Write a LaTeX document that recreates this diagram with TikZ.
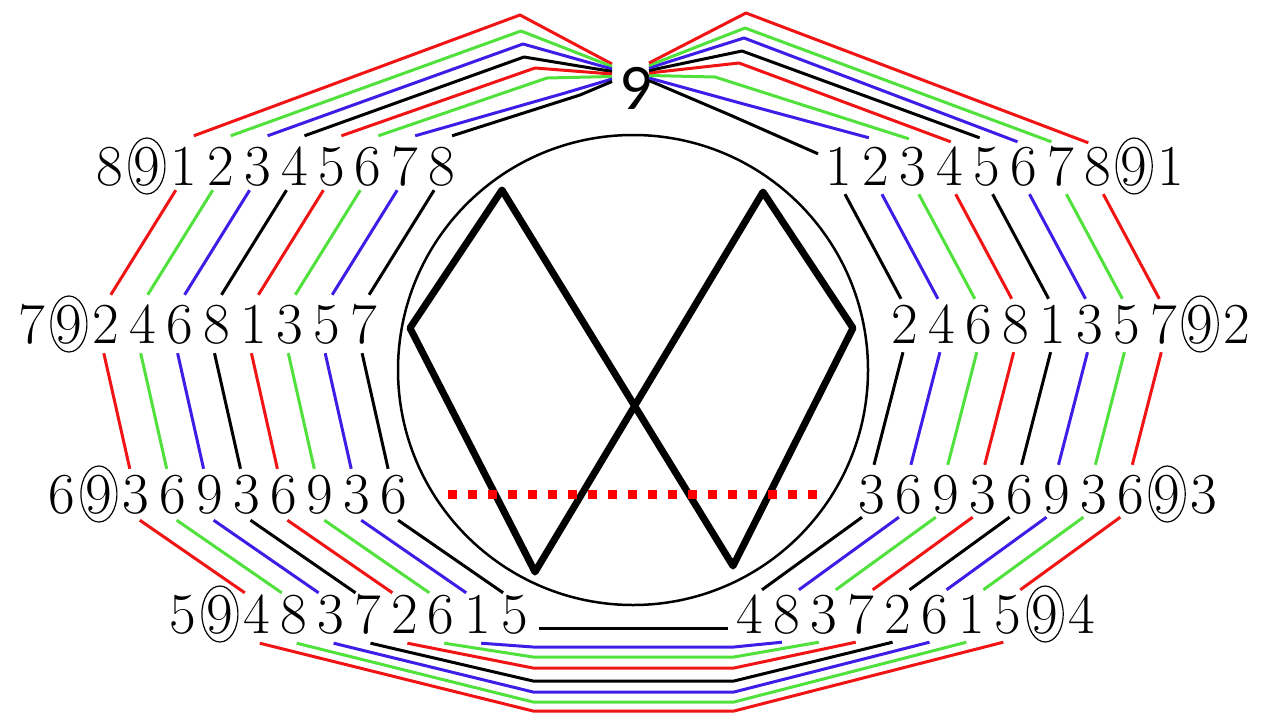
\documentclass[tikz,border=0pt]{standalone}
\usepackage{fontspec}
\usetikzlibrary{shapes.geometric}
\newfontfamily\topnine{Carlito}
\newcommand\digitfont{\fontsize{58}{60}\selectfont}
\definecolor{lred}{RGB}{240,20,20}
\definecolor{lgreen}{RGB}{80,225,60}
\definecolor{lblue}{RGB}{60,30,230}
\begin{document}
\begin{tikzpicture}[x=1pt, y=-1pt,
    dig/.style={font=\digitfont, inner sep=0pt, text height=38pt, text depth=0pt},
    ring/.style={draw, ellipse, line width=1.2pt, minimum width=36pt, minimum height=56pt, inner sep=0pt},
    wire/.style={line width=3pt, line join=round},
  ]
  \useasboundingbox (0,0) rectangle (1280,720);
  % digit rows
  \node[font=\topnine\fontsize{65}{66}\selectfont, inner sep=0pt] (top) at (636,88) {9};
  \foreach \r/\x/\y/\s in {bl/110/166/{8,9,1,2,3,4,5,6,7,8}, br/839/166/{1,2,3,4,5,6,7,8,9,1},
      cl/32/324/{7,9,2,4,6,8,1,3,5,7}, cr/905/324/{2,4,6,8,1,3,5,7,9,2},
      dl/62/494/{6,9,3,6,9,3,6,9,3,6}, dr/872/494/{3,6,9,3,6,9,3,6,9,3},
      el/183/614/{5,9,4,8,3,7,2,6,1,5}, er/750/614/{4,8,3,7,2,6,1,5,9,4}}
    \foreach \d [count=\i] in \s
      \node[dig] (\r\i) at ({\x+36.9*(\i-1)},\y) {\d};
  \foreach \r in {bl2,br9,cl2,cr9,dl2,dr9,el2,er9}
    \node[ring] (o\r) at (\r) {};
  % middle
  \coordinate (hub) at (633,370);
  \draw[line width=2.5pt] (hub) circle [radius=235pt];
  \coordinate (za) at (502,190);
  \coordinate (zb) at (410,328);
  \coordinate (zc) at (535,572);
  \coordinate (zd) at (763,192);
  \coordinate (ze) at (853,328);
  \coordinate (zf) at (733,566);
  \draw[line width=7pt, line join=round] (za) -- (zb) -- (zc) -- (zd) -- (ze) -- (zf) -- cycle;
  \coordinate (ra) at (448,494);
  \coordinate (rb) at (820,494);
  \draw[red, line width=9pt, dash pattern=on 9pt off 11pt] (ra) -- (rb);
  % wires to the top 9
  \foreach \i/\c/\kx/\ky in {3/lred/520/15, 4/lgreen/521/31, 5/lblue/523/44, 6/black/524/57,
      7/lred/535/68, 8/lgreen/547/78, 9/lblue/565/93, 10/black/580/95} {
    \coordinate (kl\i) at (\kx,\ky);
    \draw[wire,\c] ([shift={(10,-11)}]bl\i.north) -- (kl\i) -- ([shift={(-24,{-24+2.5*(\i-3)})}]top.center);
  }
  \foreach \j/\c/\kx/\ky/\dx/\dy in {1/black/730/115/-21/7, 2/lblue/740/103/-7/-9, 3/lgreen/715/77/-4/-8,
      4/lred/739/63/1/-5, 5/black/742/51/-7/-9, 6/lblue/744/38/-6/-5, 7/lgreen/745/28/-9/-5, 8/lred/746/13/-9/-4} {
    \coordinate (kr\j) at (\kx,\ky);
    \draw[wire,\c] ([shift={(13,{-25+2.5*(8-\j)})}]top.center) -- (kr\j) -- ([shift={(\dx,\dy)}]br\j.north);
  }
  % wires between rows
  \foreach \i/\c in {3/lred,4/lgreen,5/lblue,6/black,7/lred,8/lgreen,9/lblue,10/black} {
    \draw[wire,\c] ([shift={(-8,5)}]bl\i.south) -- ([shift={(5,-10)}]cl\i.north);
    \draw[wire,\c] ([shift={(-2,10)}]cl\i.south) -- ([shift={(-6,-6)}]dl\i.north);
    \draw[wire,\c] ([shift={(4,7)}]dl\i.south) -- ([shift={(-12,-2)}]el\i.north);
  }
  \foreach \j/\c in {1/black,2/lblue,3/lgreen,4/lred,5/black,6/lblue,7/lgreen,8/lred} {
    \draw[wire,\c] ([shift={(6,9)}]br\j.south) -- ([shift={(-4,-6)}]cr\j.north);
    \draw[wire,\c] ([shift={(-2,9)}]cr\j.south) -- ([shift={(2,-10)}]dr\j.north);
    \draw[wire,\c] ([shift={(-10,4)}]dr\j.south) -- ([shift={(12,-5)}]er\j.north);
  }
  % wires along the bottom
  \foreach \i/\c/\ky in {3/lred/711, 4/lgreen/702, 5/lblue/692, 6/black/681, 7/lred/668, 8/lgreen/657, 9/lblue/647} {
    \pgfmathtruncatemacro\j{11-\i}
    \coordinate (ba\i) at (533,\ky);
    \coordinate (bb\i) at (734,\ky);
    \draw[wire,\c] ([shift={(3,10)}]el\i.south) -- (ba\i) -- (bb\i) -- ([shift={(-5,9)}]er\j.south);
  }
  \draw[wire] ([shift={(10,14)}]el10.east) -- ([shift={(-8,14)}]er1.west);
\end{tikzpicture}
\end{document}
